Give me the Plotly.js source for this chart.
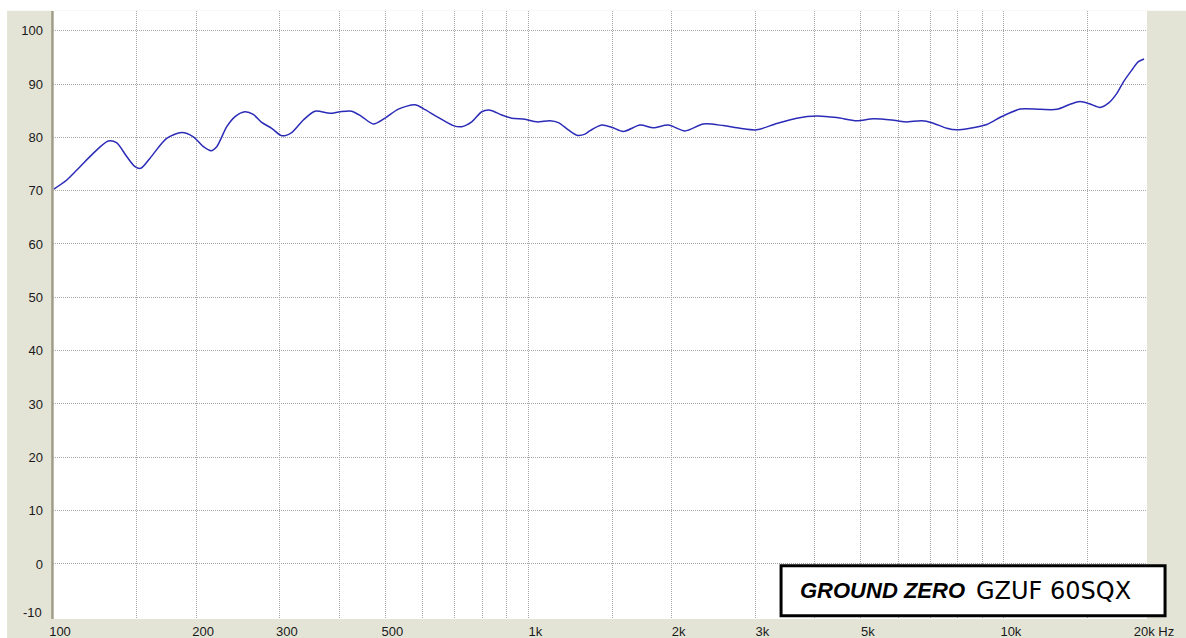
<!DOCTYPE html>
<html>
<head>
<meta charset="utf-8">
<script src="https://cdn.plot.ly/plotly-3.0.1.min.js"></script>
<style>html,body{margin:0;padding:0;background:#fff;}#chart{width:1186px;height:638px;}</style>
</head>
<body>
<div id="chart"></div>
<script>
// Frequency response data (Hz, dB SPL)
const freqHz = [100.4,106.9,114,121.5,130.7,136,142.9,148.8,152.9,160,173.4,186.5,197.3,207.2,215,221,232,241.5,253.4,263.8,274.8,288.4,302.7,317.7,336.2,355.6,382.5,401.6,425,446,471.8,499.4,532.6,577.5,601,641.4,695,724,759.8,797.6,830,878.6,922.3,983.8,1041,1110,1156,1213,1264,1315,1348,1426,1496,1584,1717,1831,1969,2135,2333,2570,2786,3021,3328,3667,4041,4452,4903,5316,5812,6197,6721,7052,7584,7961,8492,9204,9899,10816,11912,12919,13780,14460,15180,15935,16590,17284,17846,18580,19185,19720];
const splDb = [70.3,72.0,74.5,77.0,79.3,79.0,76.4,74.5,74.2,76.1,79.8,80.9,80.1,78.25,77.5,78.25,82.0,83.9,84.8,84.3,82.8,81.7,80.3,80.9,83.25,84.9,84.5,84.8,84.9,83.9,82.5,83.6,85.3,86.1,85.4,83.9,82.2,82.0,82.9,84.8,85.1,84.2,83.6,83.4,82.9,83.1,82.75,81.4,80.4,80.6,81.25,82.3,81.9,81.1,82.3,81.8,82.3,81.2,82.5,82.2,81.7,81.4,82.6,83.6,84.0,83.7,83.1,83.5,83.25,82.9,83.1,82.75,81.7,81.4,81.7,82.4,83.9,85.3,85.25,85.25,86.2,86.7,86.25,85.6,86.4,88.25,90.4,92.6,94.2,94.7];

const xGridVals = [100,150,200,300,400,500,600,700,800,900,1000,1500,2000,3000,4000,5000,6000,7000,8000,9000,10000,15000,20000];
const xGridText = ['100','','200','300','','500','','','','','1k','','2k','3k','','5k','','','','','10k','','20k Hz'];
const yTickVals = [0,10,20,30,40,50,60,70,80,90,100];
const yTickText = ['0','10','20','30','40','50','60','70','80','90','100'];
const brandText = 'GROUND ZERO';
const modelText = 'GZUF 60SQX';

const beige = '#e4e4d6';
const gridCol = '#a6a6a6';

const trace = {
  x: freqHz, y: splDb, type: 'scatter', mode: 'lines',
  line: {color: '#2b2bb8', width: 1.5, shape: 'spline', smoothing: 0.8},
  hoverinfo: 'x+y'
};

const layout = {
  width: 1186, height: 638,
  margin: {l: 53, r: 39, t: 11, b: 19, pad: 0},
  paper_bgcolor: beige,
  plot_bgcolor: '#ffffff',
  showlegend: false,
  font: {family: 'Liberation Sans, Arial, sans-serif', size: 13, color: '#1a1a1a'},
  xaxis: {
    type: 'log', range: [2, Math.log10(20000)],
    tickmode: 'array', tickvals: xGridVals, ticktext: xGridText,
    showgrid: true, gridcolor: gridCol, griddash: '1px,1px', gridwidth: 1,
    zeroline: false, showline: false, ticks: '',
    ticklabelshift: 7, ticklabelstandoff: 3,
    tickfont: {family: 'Liberation Sans, Arial, sans-serif', size: 13, color: '#1a1a1a'},
    fixedrange: true
  },
  yaxis: {
    range: [-10.32, 103.69],
    tickmode: 'array', tickvals: yTickVals, ticktext: yTickText,
    showgrid: true, gridcolor: gridCol, griddash: '1px,1px', gridwidth: 1,
    zeroline: false, showline: false, ticks: '',
    ticklabelstandoff: 9,
    tickfont: {family: 'Liberation Sans, Arial, sans-serif', size: 13, color: '#1a1a1a'},
    fixedrange: true
  },
  shapes: [
    // white strips at the very top and left of the image
    {type: 'rect', xref: 'paper', yref: 'paper', x0: -0.1, x1: 1.1, y0: 1.0005, y1: 1.05, fillcolor: '#ffffff', line: {width: 0}, layer: 'below'},
    {type: 'rect', xref: 'paper', yref: 'paper', x0: -0.1, x1: -0.042, y0: -0.1, y1: 1.1, fillcolor: '#ffffff', line: {width: 0}, layer: 'below'},
    // left inset border of plot area
    {type: 'line', xref: 'paper', yref: 'paper', x0: -0.0005, x1: -0.0005, y0: 0, y1: 1, line: {color: '#a09d88', width: 2.5}},
    // logo box
    {type: 'rect', xref: 'paper', yref: 'paper', x0: 0.6655, x1: 1.0165, y0: 0.0055, y1: 0.0875, fillcolor: '#ffffff', line: {color: '#000000', width: 3}}
  ],
  annotations: [
    {xref: 'paper', yref: 'paper', x: 0, y: 0.0104, xanchor: 'right', yanchor: 'middle', xshift: -9, text: '-10', showarrow: false,
     font: {family: 'Liberation Sans, Arial, sans-serif', size: 13, color: '#1a1a1a'}},
    {xref: 'paper', yref: 'paper', x: 0.8355, y: 0.0465, xanchor: 'right', yanchor: 'middle', text: '<b><i>' + brandText + '</i></b>', showarrow: false,
     font: {family: 'Liberation Sans, Arial, sans-serif', size: 22, color: '#000000'}},
    {xref: 'paper', yref: 'paper', x: 0.8419, y: 0.0465, xanchor: 'left', yanchor: 'middle', text: modelText, showarrow: false,
     font: {family: 'DejaVu Sans, sans-serif', size: 24, color: '#000000'}}
  ]
};

Plotly.newPlot('chart', [trace], layout, {displayModeBar: false, staticPlot: true});
</script>
</body>
</html>
